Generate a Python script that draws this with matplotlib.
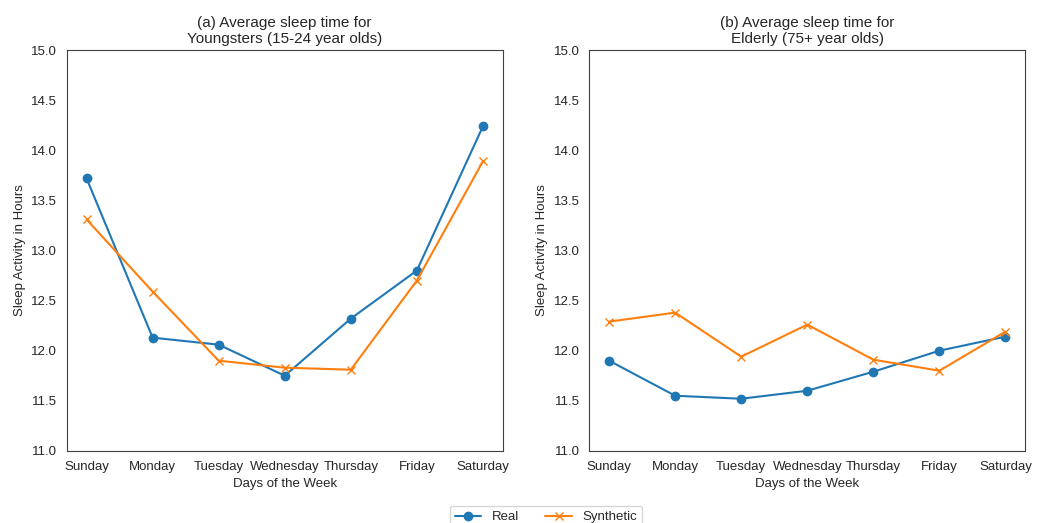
import matplotlib
matplotlib.use("Agg")
import matplotlib.pyplot as plt
import seaborn as sns

sns.set_style("white")
plt.rcParams['font.family'] = ['Liberation Sans', 'DejaVu Sans']

days = ["Sunday", "Monday", "Tuesday", "Wednesday", "Thursday", "Friday", "Saturday"]

# youngsters (15-24)
young_real = [13.72, 12.13, 12.06, 11.75, 12.32, 12.80, 14.24]
young_syn = [13.31, 12.59, 11.90, 11.83, 11.81, 12.70, 13.89]

# elderly (75+)
old_real = [11.90, 11.55, 11.52, 11.60, 11.79, 12.00, 12.14]
old_syn = [12.29, 12.38, 11.94, 12.26, 11.91, 11.80, 12.19]

titles = ["(a) Average sleep time for\nYoungsters (15-24 year olds)",
          "(b) Average sleep time for\nElderly (75+ year olds)"]

fig = plt.figure(figsize=(10.43, 5.23), dpi=100)
ax1 = fig.add_axes([0.064, 0.138, 0.418, 0.766])
ax2 = fig.add_axes([0.565, 0.138, 0.418, 0.766])

for ax, real, syn, t in [(ax1, young_real, young_syn, titles[0]),
                         (ax2, old_real, old_syn, titles[1])]:
    ax.plot(days, real, "-o", color="#1f77b4", ms=6, lw=1.5, label="Real")
    ax.plot(days, syn, "-x", color="#ff7f0e", ms=6, lw=1.5, label="Synthetic")
    ax.set_ylim(11.0, 15.0)
    ax.set_title(t, fontsize=11, pad=5)
    ax.set_xlabel("Days of the Week", fontsize=9.5)
    ax.set_ylabel("Sleep Activity in Hours", fontsize=9.5)
    ax.tick_params(labelsize=9.5, labelcolor="0.15")
    for s in ax.spines.values():
        s.set_color("0.25")

h, l = ax1.get_legend_handles_labels()
fig.legend(h, l, loc="upper center", bbox_to_anchor=(0.5235, 0.033), ncol=2,
           fontsize=9.5, frameon=True, borderaxespad=0, handlelength=2.0,
           columnspacing=2.0)

fig.savefig("out.png", dpi=100)
